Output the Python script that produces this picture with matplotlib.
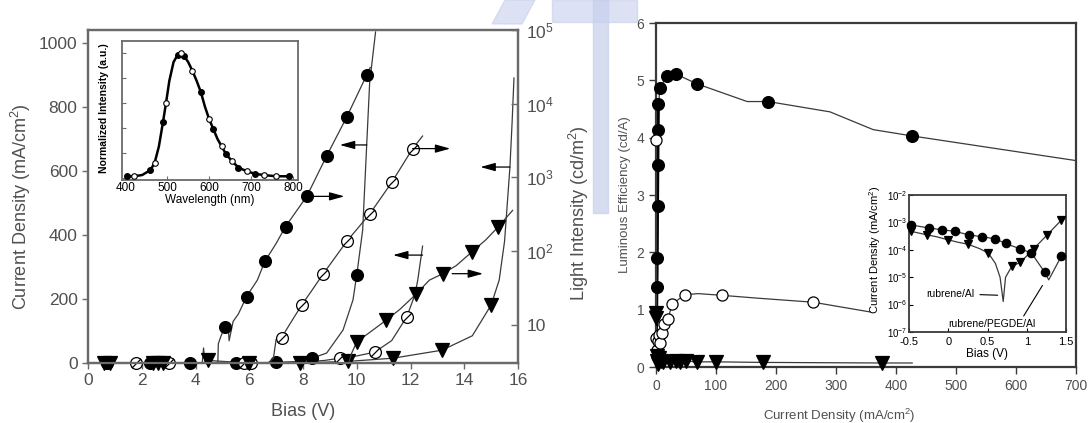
import numpy as np
import matplotlib.pyplot as plt
from matplotlib.path import Path
from matplotlib.patches import Rectangle, Polygon

plt.rcParams['font.family'] = ['Liberation Sans', 'DejaVu Sans']
plt.rcParams['mathtext.fontset'] = 'custom'
plt.rcParams['mathtext.rm'] = 'Liberation Sans'
plt.rcParams['mathtext.it'] = 'Liberation Sans'

# ---- left panel: J-V (left axis) and L-V (right axis) ----
# filled circles
jv1_v = [0.7, 2.3, 3.8, 5.5, 6.0, 7.0, 7.9, 8.33, 8.88, 9.49, 9.86, 10.0, 10.22, 10.37, 10.48, 10.7]
jv1_j = [0, 0, 0, 0, 0, 2, 5, 15, 31, 103, 197, 275, 415, 681, 875, 1034]
jv1_mk = [0, 1, 2, 3, 4, 5, 7, 11]
lv1_v = [4.83, 4.85, 4.95, 5.1, 5.22, 5.25, 5.4, 5.6, 5.9, 6.3, 6.58, 7.0, 7.35, 8.14, 8.88, 9.63, 10.37, 10.5]
lv1_l = [3, 5.5, 7, 9.3, 9.3, 6, 11, 14, 24, 40, 72, 126, 214, 550, 1950, 6600, 24500, 31000]
lv1_mk = [3, 8, 10, 12, 13, 14, 15, 16]

# open circles
jv2_v = [1.8, 3.0, 4.1, 5.8, 6.05, 7.0, 8.0, 8.8, 9.37, 10.0, 10.67, 11.3, 11.86, 12.16, 12.27, 12.45]
jv2_j = [0, 0, 0, 0, 0, 0, 3, 8, 15, 22, 34, 70, 144, 212, 259, 365]
jv2_mk = [0, 1, 3, 4, 8, 10, 12]
lv2_v = [6.7, 6.9, 7.0, 7.2, 7.5, 7.96, 8.3, 8.74, 9.63, 10.48, 11.3, 12.08, 12.45]
lv2_l = [3, 3.5, 6.3, 6.6, 10, 18.6, 28, 48, 135, 316, 850, 2450, 3630]
lv2_mk = [3, 5, 7, 8, 9, 10, 11]

# filled triangles
jv3_v = [0.6, 0.8, 2.4, 2.6, 2.8, 4.25, 4.3, 4.35, 4.45, 6.0, 7.9, 9.67, 11.35, 13.17, 14.3,
         15.0, 15.3, 15.5, 15.7, 15.78, 15.85]
jv3_j = [0, 0, 0, 0, 0, 0, 47, 0, 8, 0, 0, 5, 15, 40, 85, 181, 259, 380, 612, 750, 890]
jv3_mk = [0, 1, 2, 3, 4, 8, 9, 10, 11, 12, 13, 15]
lv3_v = [9.7, 9.8, 10.0, 10.5, 11.1, 11.6, 12.2, 12.7, 13.2, 13.7, 14.3, 14.8, 15.25, 15.8]
lv3_l = [3, 4, 5.8, 7.9, 11.5, 16, 25.7, 40, 49, 63, 98, 141, 209, 355]
lv3_mk = [2, 4, 6, 8, 10, 12]

light_ticks = [10, 100, 1000, 10000, 100000]
light_labels = ['10', '10$^2$', '10$^3$', '10$^4$', '10$^5$']

# inset: EL spectrum
wl = [405, 420, 440, 460, 470, 480, 490, 497, 505, 515, 525, 532, 540, 550, 560, 570, 580, 590,
      600, 610, 620, 630, 640, 655, 670, 690, 710, 730, 760, 790]
el = [0.01, 0.01, 0.02, 0.06, 0.12, 0.25, 0.45, 0.60, 0.78, 0.93, 0.99, 1.0, 0.98, 0.93, 0.86,
      0.78, 0.69, 0.57, 0.47, 0.39, 0.31, 0.25, 0.19, 0.13, 0.08, 0.05, 0.03, 0.02, 0.01, 0.01]
el_filled = [0, 3, 6, 10, 12, 16, 19, 22, 24, 26, 29]
el_open = [1, 4, 7, 11, 14, 18, 21, 23, 25, 27, 28]

# ---- right panel: luminous efficiency vs current density ----
le1_j = [0, 1, 1.5, 2, 2.5, 3, 3.5, 4, 7, 18, 33, 68, 152, 187, 290, 362, 427, 700]
le1_e = [0, 0.94, 1.4, 1.9, 2.8, 3.53, 4.14, 4.59, 4.87, 5.08, 5.11, 4.94, 4.63, 4.63, 4.45, 4.14, 4.03, 3.6]
le1_mk = [2, 3, 4, 5, 6, 7, 8, 9, 10, 11, 13, 16]
le2_j = [0, 0.5, 1, 2, 3, 5, 7, 10, 14, 20, 27, 48, 70, 110, 170, 262, 357]
le2_e = [3.96, 0.5, 0.15, 0.3, 0.45, 0.55, 0.42, 0.6, 0.75, 0.84, 1.1, 1.26, 1.28, 1.25, 1.2, 1.13, 0.96]
le2_mk = [0, 1, 3, 4, 5, 6, 7, 8, 9, 10, 11, 13, 15]
le3_j = [0, 0.5, 1, 2, 3, 5, 8, 12, 23, 33, 40, 50, 68, 100, 178, 377, 427]
le3_e = [0.95, 0.85, 0.2, 0.1, 0.05, 0.15, 0.1, 0.08, 0.09, 0.1, 0.09, 0.1, 0.09, 0.09, 0.08, 0.07, 0.07]
le3_mk = [0, 1, 2, 3, 4, 5, 6, 7, 8, 9, 10, 11, 12, 13, 14, 15]

# inset: dark J-V
b_circ = [-0.47, -0.42, -0.24, -0.08, 0.09, 0.26, 0.43, 0.60, 0.73, 0.91, 1.06, 1.23, 1.28, 1.44, 1.5]
j_circ = [8e-4, 7.6e-4, 6.2e-4, 5.4e-4, 4.7e-4, 3.5e-4, 3.0e-4, 2.5e-4, 1.7e-4, 1.1e-4, 7.6e-5,
          1.5e-5, 8e-6, 5.8e-5, 7e-5]
circ_mk = [0, 2, 3, 4, 5, 6, 7, 8, 9, 10, 11, 13]
b_tri = [-0.47, -0.27, -0.15, 0.0, 0.12, 0.25, 0.4, 0.51, 0.6, 0.66, 0.70, 0.73, 0.81, 0.92, 1.09,
         1.26, 1.44, 1.5]
j_tri = [4.7e-4, 3.5e-4, 3.0e-4, 2.3e-4, 1.9e-4, 1.6e-4, 1.1e-4, 7.6e-5, 3.2e-5, 1e-5, 1.3e-6,
         1e-5, 2.5e-5, 3.5e-5, 1.1e-4, 3.5e-4, 1.2e-3, 1.4e-3]
tri_mk = [0, 1, 3, 5, 7, 12, 13, 14, 15, 16]
dark_ticks = [1e-7, 1e-6, 1e-5, 1e-4, 1e-3, 1e-2]

LC = '#3a3a3a'
GR = '#6a6a6a'
TXT = '#505050'

circ = Path.unit_circle()
slash = Path([(-0.75, -0.75), (0.75, 0.75)], [Path.MOVETO, Path.LINETO])
oslash = Path.make_compound_path(circ, slash)


def series(ax, x, y, mk, marker, ms, filled=True, lw=0.9):
    ax.plot(x, y, color=LC, lw=lw, zorder=2)
    xs = [x[i] for i in mk]
    ys = [y[i] for i in mk]
    ax.plot(xs, ys, ls='none', marker=marker, ms=ms,
            mfc='black' if filled else 'white', mec='black', mew=0.9,
            clip_on=False, zorder=3)


def style(ax, color, lw):
    for s in ax.spines.values():
        s.set_color(color)
        s.set_linewidth(lw)


fig = plt.figure(figsize=(10.89, 4.23), dpi=100)
W, H = 1089, 423

# faint watermark
wm = '#c6cfec'
fig.patches.append(Rectangle((593 / W, 1 - 213 / H), 15 / W, 213 / H, transform=fig.transFigure,
                             color=wm, alpha=0.7, zorder=0))
fig.patches.append(Polygon([(505 / W, 1), (535 / W, 1), (522 / W, 1 - 24 / H), (492 / W, 1 - 24 / H)],
                           closed=True, transform=fig.transFigure, color=wm, alpha=0.6, zorder=0))
fig.patches.append(Rectangle((552 / W, 1 - 22 / H), 85 / W, 22 / H, transform=fig.transFigure,
                             color=wm, alpha=0.6, zorder=0))

# ---------------- left panel ----------------
ax = fig.add_axes([88 / W, 1 - 363 / H, 430 / W, 333 / H])
ax.patch.set_alpha(0)
ax2 = ax.twinx()
ax2.patch.set_alpha(0)

series(ax, jv1_v, jv1_j, jv1_mk, 'o', 8.5)
series(ax, jv2_v, jv2_j, jv2_mk, oslash, 8.5, filled=False)
series(ax, jv3_v, jv3_j, jv3_mk, 'v', 9.5)
series(ax2, lv1_v, lv1_l, lv1_mk, 'o', 8.5)
series(ax2, lv2_v, lv2_l, lv2_mk, oslash, 8.5, filled=False)
series(ax2, lv3_v, lv3_l, lv3_mk, 'v', 9.5)

ax.set_xlim(0, 16)
ax.set_ylim(0, 1040)
ax2.set_ylim(3, 1e5)
ax2.set_yscale('log')
ax2.set_yticks(light_ticks, light_labels)
ax2.yaxis.set_minor_locator(plt.NullLocator())
ax.set_xticks(range(0, 17, 2))
ax.set_yticks(range(0, 1001, 200))

arrow = dict(arrowstyle='-|>,head_length=0.9,head_width=0.25', color='black', lw=0.9,
             shrinkA=0, shrinkB=0)
# arrows point from each curve toward its axis
ax.annotate('', xy=(jv1_v[13] - 1.0, jv1_j[13]), xytext=(jv1_v[13], jv1_j[13]), arrowprops=arrow)
ax.annotate('', xy=(jv2_v[-1] - 1.1, jv2_j[-1] - 28), xytext=(jv2_v[-1], jv2_j[-1] - 28), arrowprops=arrow)
ax.annotate('', xy=(jv3_v[18] - 1.1, jv3_j[18]), xytext=(jv3_v[18], jv3_j[18]), arrowprops=arrow)
ax2.annotate('', xy=(lv1_v[13] + 1.4, lv1_l[13]), xytext=(lv1_v[13], lv1_l[13]), arrowprops=arrow)
ax2.annotate('', xy=(lv2_v[11] + 1.4, lv2_l[11]), xytext=(lv2_v[11], lv2_l[11]), arrowprops=arrow)
ax2.annotate('', xy=(lv3_v[8] + 1.5, lv3_l[8]), xytext=(lv3_v[8] + 0.35, lv3_l[8]), arrowprops=arrow)

for a in (ax, ax2):
    style(a, GR, 1.6)
ax.tick_params(direction='out', length=4, width=1, color=GR, labelsize=12.5, labelcolor=TXT)
ax2.tick_params(direction='in', length=5, width=1, color=GR, labelsize=12.5, labelcolor=TXT, pad=6)
ax.set_ylabel('Current Density (mA/cm$^2$)', fontsize=13, color=TXT)
ax.yaxis.set_label_coords(-0.128, 0.47)
ax.set_xlabel('Bias (V)', fontsize=13, color=TXT)
ax.xaxis.set_label_coords(0.5, -0.12)
ax2.set_ylabel('Light Intensity (cd/m$^2$)', fontsize=13, color=TXT)
ax2.yaxis.set_label_coords(1.114, 0.45)

# inset spectrum
axi = fig.add_axes([122 / W, 1 - 180 / H, 176 / W, 139 / H])
axi.plot(wl, el, color='black', lw=1.8, zorder=2)
axi.plot([wl[i] for i in el_filled], [el[i] for i in el_filled], ls='none', marker='o', ms=4,
         mfc='black', mec='black', zorder=3)
axi.plot([wl[i] for i in el_open], [el[i] for i in el_open], ls='none', marker='o', ms=4,
         mfc='white', mec='black', mew=0.8, zorder=3)
axi.set_xlim(392, 812)
axi.set_ylim(-0.02, 1.1)
axi.set_xticks([400, 500, 600, 700, 800])
axi.set_yticks([0, 0.2, 0.4, 0.6, 0.8, 1.0])
axi.set_yticklabels([])
style(axi, GR, 1.3)
axi.tick_params(direction='in', length=3, width=0.8, color=GR, labelsize=8.5, pad=1.5)
axi.set_xlabel('Wavelength (nm)', fontsize=8.5, labelpad=0)
axi.set_ylabel('Normalized Intensity (a.u.)', fontsize=7.5, fontweight='bold')
axi.yaxis.set_label_coords(-0.075, 0.52)

# ---------------- right panel ----------------
bx = fig.add_axes([656 / W, 1 - 367 / H, 420 / W, 344 / H])
series(bx, le1_j, le1_e, le1_mk, 'o', 8.5)
series(bx, le2_j, le2_e, le2_mk, 'o', 8, filled=False)
series(bx, le3_j, le3_e, le3_mk, 'v', 10)
bx.plot(le1_j[:8], le1_e[:8], color='black', lw=2.2, zorder=2.5)
bx.set_xlim(0, 700)
bx.set_ylim(0, 6)
bx.set_xticks(range(0, 701, 100))
bx.set_yticks(range(0, 7))
style(bx, '#3a3a3a', 1.6)
bx.tick_params(direction='out', length=5, width=1, color='#3a3a3a', labelsize=10, labelcolor=TXT)
bx.set_ylabel('Luminous Efficiency (cd/A)', fontsize=9.5, color=TXT)
bx.yaxis.set_label_coords(-0.06, 0.5)
bx.set_xlabel('Current Density (mA/cm$^2$)', fontsize=9.5, color=TXT)
bx.xaxis.set_label_coords(0.436, -0.115)

# inset dark current
bxi = fig.add_axes([909 / W, 1 - 332 / H, 157 / W, 137 / H])
bxi.set_yscale('log')
series(bxi, b_circ, j_circ, circ_mk, 'o', 6)
series(bxi, b_tri, j_tri, tri_mk, 'v', 6)
bxi.set_xlim(-0.5, 1.5)
bxi.set_ylim(1e-7, 1e-2)
bxi.set_xticks([-0.5, 0, 0.5, 1, 1.5], ['-0.5', '0', '0.5', '1', '1.5'])
bxi.set_yticks(dark_ticks)
bxi.yaxis.set_minor_locator(plt.NullLocator())
style(bxi, '#3a3a3a', 1.3)
bxi.tick_params(direction='in', length=3, width=0.8, labelsize=8, pad=3.5)
bxi.tick_params(axis='y', labelsize=7, pad=1)
bxi.set_xlabel('Bias (V)', fontsize=8.5, labelpad=1)
bxi.set_ylabel('Current Density (mA/cm$^2$)', fontsize=8)
bxi.yaxis.set_label_coords(-0.165, 0.6)
bxi.annotate('rubrene/Al', xy=(b_tri[10] - 0.07, 2.2e-6), xytext=(-0.28, 2.5e-6), fontsize=7.5,
             ha='left', va='center',
             arrowprops=dict(arrowstyle='-', color='black', lw=0.8, shrinkA=2, shrinkB=0))
bxi.annotate('rubrene/PEGDE/Al', xy=(b_circ[12] - 0.08, 5e-6), xytext=(0.55, 2e-7), fontsize=7.5,
             ha='center', va='center',
             arrowprops=dict(arrowstyle='-', color='black', lw=0.8, shrinkA=0, shrinkB=0,
                             relpos=(0.85, 1.0)))

fig.savefig('out.png', dpi=100)
